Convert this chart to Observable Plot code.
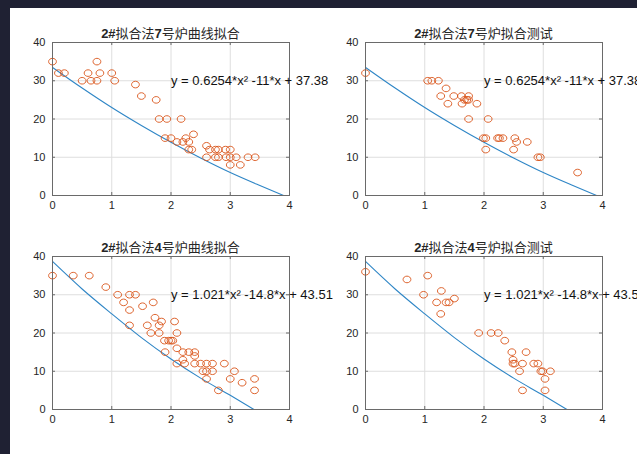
<!DOCTYPE html>
<html><head><meta charset="utf-8">
<script src="https://cdn.jsdelivr.net/npm/d3@7"></script>
<script src="https://cdn.jsdelivr.net/npm/@observablehq/plot@0.6"></script>
<style>
html,body{margin:0;padding:0;background:#1f2133;width:637px;height:454px;overflow:hidden;position:relative;}
#fig{position:absolute;left:10px;top:8px;width:627px;height:446px;background:#fff;}
.panel{position:absolute;}
.title{position:absolute;font-family:"Liberation Sans","Noto Sans CJK SC",sans-serif;font-size:13px;color:#262626;white-space:nowrap;transform:translateX(-50%);line-height:16px;}
.title b{font-weight:bold;}
</style></head><body><div id="fig"></div><script>
// ---- data ----
const xTicks = [0, 1, 2, 3, 4];
const yTicks = [0, 10, 20, 30, 40];

const fit7X = [0,0.1,0.2,0.5,0.6,0.65,0.75,0.75,0.8,1.0,1.05,1.4,1.5,1.75,1.8,1.93,2.17,1.9,2.0,2.1,2.2,2.25,2.3,2.38,2.3,2.35,2.6,2.6,2.65,2.75,2.8,2.75,2.8,2.92,3.0,2.93,3.0,3.1,3.0,3.17,3.3,3.42];
const fit7Y = [35,32,32,30,32,30,35,30,32,32,30,29,26,25,20,20,20,15,15,14,14,15,14,16,12,12,13,10,12,12,12,10,10,12,12,10,10,10,8,8,10,10];

const test7X = [0,1.05,1.12,1.23,1.36,1.27,1.39,1.49,1.62,1.63,1.67,1.71,1.74,1.74,1.88,1.74,2.07,1.99,2.03,2.03,2.23,2.26,2.32,2.52,2.55,2.73,2.5,2.91,2.95,3.58];
const test7Y = [32,30,30,30,28,26,24,26,26,24,25,25,26,25,24,20,20,15,15,12,15,15,15,15,14,14,12,10,10,6];

const fit4X = [0,0.35,0.62,0.9,1.1,1.2,1.3,1.4,1.3,1.3,1.52,1.7,1.73,1.6,1.66,1.8,1.84,1.8,1.89,1.96,2.0,2.03,1.9,2.06,2.1,2.1,2.1,2.2,2.2,2.23,2.3,2.4,2.4,2.4,2.5,2.6,2.7,2.54,2.6,2.7,2.6,2.8,2.9,3.07,3.0,3.2,3.41,3.41];
const fit4Y = [35,35,35,32,30,28,30,30,26,22,27,28,24,22,20,22,23,20,18,18,18,18,15,23,20,16,12,15,13,12,15,15,14,12,12,12,12,10,10,10,8,5,12,10,8,7,8,5];

const test4X = [0,0.7,1.05,0.98,1.28,1.2,1.36,1.41,1.5,1.27,1.91,2.12,2.24,2.35,2.47,2.71,2.49,2.49,2.52,2.65,2.84,2.91,2.6,2.96,2.99,3.12,3.03,2.65,3.03];
const test4Y = [36,34,35,30,31,28,28,28,29,25,20,20,20,18,15,15,13,12,12,12,12,12,10,10,10,10,8,5,5];

// fitted curves, values
const curve7X = [0,0.5,1,1.5,2,2.5,3,3.5,3.9];
const curve7Y = [33.5,28.1,23.0,18.3,13.9,9.8,6.0,2.6,0];
const curve4X = [0,0.5,1,1.5,2,2.5,3,3.4];
const curve4Y = [38.7,31.5,25.0,18.8,13.2,8.2,3.7,0];

const titles = [
  ["2#", "拟合法", "7", "号炉曲线拟合"],
  ["2#", "拟合法", "7", "号炉拟合测试"],
  ["2#", "拟合法", "4", "号炉曲线拟合"],
  ["2#", "拟合法", "4", "号炉拟合测试"]
];
const eq7 = "y = 0.6254*x² -11*x + 37.38";
const eq4 = "y = 1.021*x² -14.8*x + 43.51";
const eqX = 2, eqY = 30;

// ---- layout ----
const plotW = 237, plotH = 153;
const mL = 40, mR = 40, mT = 10, mB = 25;
const origins = [[52, 42], [365, 42], [52, 256], [365, 256]];

const ellipse = {
  draw(ctx, size) {
    const r = Math.sqrt(size / Math.PI), rx = r * 1.08, ry = r * 0.92, k = 0.5523;
    ctx.moveTo(rx, 0);
    ctx.bezierCurveTo(rx, ry * k, rx * k, ry, 0, ry);
    ctx.bezierCurveTo(-rx * k, ry, -rx, ry * k, -rx, 0);
    ctx.bezierCurveTo(-rx, -ry * k, -rx * k, -ry, 0, -ry);
    ctx.bezierCurveTo(rx * k, -ry, rx, -ry * k, rx, 0);
    ctx.closePath();
  }
};

const zipXY = (xs, ys) => xs.map((x, i) => ({x, y: ys[i]}));
const panels = [
  {pts: zipXY(fit7X, fit7Y), curve: zipXY(curve7X, curve7Y), eq: eq7},
  {pts: zipXY(test7X, test7Y), curve: zipXY(curve7X, curve7Y), eq: eq7},
  {pts: zipXY(fit4X, fit4Y), curve: zipXY(curve4X, curve4Y), eq: eq4},
  {pts: zipXY(test4X, test4Y), curve: zipXY(curve4X, curve4Y), eq: eq4}
];

const frameColor = "#6a6a6a";
panels.forEach((p, i) => {
  const [ox, oy] = origins[i];
  const chart = Plot.plot({
    width: plotW + mL + mR, height: plotH + mT + mB,
    marginLeft: mL, marginRight: mR, marginTop: mT, marginBottom: mB,
    style: {background: "transparent", overflow: "visible", fontFamily: "'Liberation Sans', Arial, sans-serif", fontSize: "11px", color: "#262626"},
    x: {domain: [0, 4]},
    y: {domain: [0, 40]},
    marks: [
      Plot.gridX(xTicks, {stroke: "#dedede", strokeOpacity: 1}),
      Plot.gridY(yTicks, {stroke: "#dedede", strokeOpacity: 1}),
      Plot.line(p.curve, {x: "x", y: "y", stroke: "#2f86c6", strokeWidth: 1.1, curve: "monotone-x"}),
      Plot.dot(p.pts, {x: "x", y: "y", r: 3.6, symbol: ellipse, fill: "none", stroke: "#D95319", strokeWidth: 0.9}),
      Plot.frame({stroke: frameColor, strokeWidth: 1}),
      Plot.tickX(xTicks, {x: d => d, insetTop: plotH - 3, stroke: frameColor}),
      Plot.tickX(xTicks, {x: d => d, insetBottom: plotH - 3, stroke: frameColor}),
      Plot.tickY(yTicks, {y: d => d, insetRight: plotW - 3, stroke: frameColor}),
      Plot.tickY(yTicks, {y: d => d, insetLeft: plotW - 3, stroke: frameColor}),
      Plot.axisX(xTicks, {tickSize: 0, tickPadding: 6, fontSize: 11, fill: "#262626", label: null}),
      Plot.axisY(yTicks, {tickSize: 0, tickPadding: 7, fontSize: 11, fill: "#262626", label: null}),
      Plot.text([p.eq], {x: () => eqX, y: () => eqY, text: d => d, textAnchor: "start", fontSize: 13, fill: "#111", fontFamily: "'Liberation Sans', Arial, sans-serif"})
    ]
  });
  chart.classList.add("panel");
  chart.style.left = (ox - mL) + "px";
  chart.style.top = (oy - mT) + "px";
  document.body.appendChild(chart);

  const t = document.createElement("div");
  t.className = "title";
  const [a, b, c, d] = titles[i];
  t.innerHTML = `<b>${a}</b>${b}<b>${c}</b>${d}`;
  t.style.left = (ox + plotW / 2) + "px";
  t.style.top = (oy - 16) + "px";
  document.body.appendChild(t);
});
</script></body></html>
